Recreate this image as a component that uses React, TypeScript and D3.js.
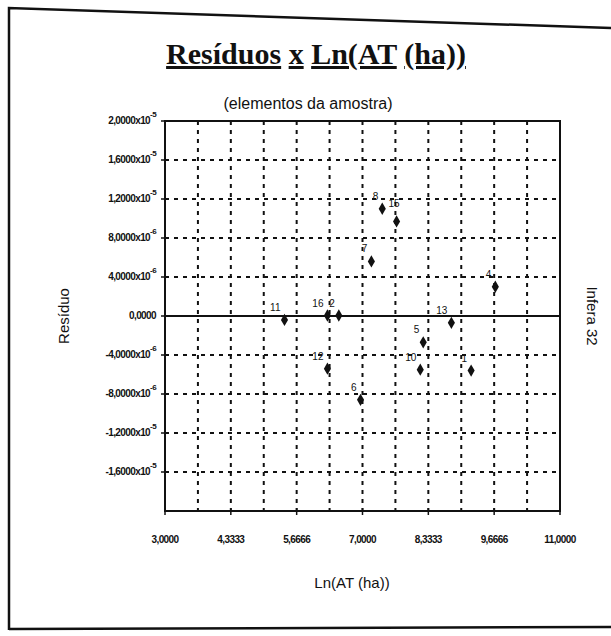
import * as d3 from "d3";

// sample elements (point id, Ln(AT), residual)
const pointIds = ["11", "16", "2", "12", "6", "7", "8", "15", "4", "13", "5", "10", "1"];
const lnAT = [5.42, 6.29, 6.52, 6.29, 6.96, 7.18, 7.4, 7.69, 9.69, 8.8, 8.23, 8.17, 9.2];
const residuals = [-0.4e-6, 0.05e-6, 0.05e-6, -5.4e-6, -8.6e-6, 5.6e-6, 1.1e-5, 9.7e-6, 3.0e-6, -0.7e-6, -2.7e-6, -5.5e-6, -5.6e-6];

const xTicks = [3, 4.3333, 5.6666, 7, 8.3333, 9.6666, 11];
const xTickLabels = ["3,0000", "4,3333", "5,6666", "7,0000", "8,3333", "9,6666", "11,0000"];
const xGrid = [3.6667, 4.3333, 5, 5.6666, 6.3333, 7, 7.6667, 8.3333, 9, 9.6666, 10.3333];
const yTicks = [2e-5, 1.6e-5, 1.2e-5, 8e-6, 4e-6, 0, -4e-6, -8e-6, -1.2e-5, -1.6e-5];
const yTickMantissa = ["2,0000", "1,6000", "1,2000", "8,0000", "4,0000", "0,0000", "-4,0000", "-8,0000", "-1,2000", "-1,6000"];
const yTickExp = ["-5", "-5", "-5", "-6", "-6", "", "-6", "-6", "-5", "-5"];
const titleWords = ["Resíduos", "x", "Ln(AT", "(ha))"];

const W = 611;
const H = 636;
const margin = { top: 121, right: 51, bottom: 125, left: 165 };

// a few point labels sit a bit off the usual spot so they don't collide
const labelNudge: Record<string, [number, number]> = { "15": [7, -5] };

export default function App() {
  const x = d3.scaleLinear().domain([3, 11]).range([margin.left, W - margin.right]);
  const y = d3.scaleLinear().domain([-2e-5, 2e-5]).range([H - margin.bottom, margin.top]);
  const diamond = d3.symbol().type(d3.symbolDiamond).size(44)();
  const sans = "'Liberation Sans', Arial, sans-serif";

  return (
    <svg
      width={W}
      height={H}
      style={{ position: "absolute", left: 0, top: 0, background: "#fff" }}
    >
      {/* scanned page frame */}
      <path d="M9,630 L9,8 L611,28" fill="none" stroke="#111" strokeWidth={2.5} />
      <line x1={9} y1={629} x2={611} y2={627} stroke="#111" strokeWidth={2.5} />

      {/* title, each word underlined on its own */}
      <text
        x={316}
        y={64}
        textAnchor="middle"
        fontFamily="'Liberation Serif', 'Times New Roman', serif"
        fontWeight="bold"
        fontSize={30}
        fill="#111"
      >
        {titleWords.map((w, i) => (
          <tspan key={w}>
            {i > 0 ? " " : ""}
            <tspan textDecoration="underline">{w}</tspan>
          </tspan>
        ))}
      </text>
      <text x={308} y={109} textAnchor="middle" fontFamily={sans} fontSize={16} fill="#111">
        (elementos da amostra)
      </text>

      {/* grid */}
      <g stroke="#111" strokeWidth={2} strokeDasharray="4 5">
        {xGrid.map((v, i) => (
          <line key={"gx" + i} x1={x(v)} x2={x(v)} y1={y(2e-5)} y2={y(-2e-5)} />
        ))}
        {yTicks.filter(v => v !== 0 && v !== 2e-5).map((v, i) => (
          <line key={"gy" + i} x1={x(3)} x2={x(11)} y1={y(v)} y2={y(v)} />
        ))}
      </g>
      <line x1={x(3)} x2={x(11)} y1={y(0)} y2={y(0)} stroke="#111" strokeWidth={1.8} />

      {/* plot frame */}
      <rect
        x={x(3)}
        y={y(2e-5)}
        width={x(11) - x(3)}
        height={y(-2e-5) - y(2e-5)}
        fill="none"
        stroke="#111"
        strokeWidth={2}
      />

      {/* y axis ticks + labels */}
      <g fontFamily={sans} fontSize={10} fontWeight="bold" fill="#111">
        {yTicks.map((v, i) => (
          <g key={"yt" + i}>
            <line x1={x(3) - 4} x2={x(3)} y1={y(v)} y2={y(v)} stroke="#111" strokeWidth={1.5} />
            <text x={x(3) - 9} y={y(v) + 3} textAnchor="end" letterSpacing={-0.6}>
              {yTickMantissa[i]}
              {yTickExp[i] ? "x10" : ""}
              {yTickExp[i] ? (
                <tspan dy={-7} fontSize={8}>
                  {yTickExp[i]}
                </tspan>
              ) : null}
            </text>
          </g>
        ))}
      </g>

      {/* x axis ticks + labels */}
      <g fontFamily={sans} fontSize={10} fontWeight="bold" fill="#111">
        {xTicks.map((v, i) => (
          <g key={"xt" + i}>
            <line x1={x(v)} x2={x(v)} y1={y(-2e-5) - 3} y2={y(-2e-5) + 4} stroke="#111" strokeWidth={1.5} />
            <text x={x(v)} y={y(-2e-5) + 32} textAnchor="middle" letterSpacing={-0.6}>
              {xTickLabels[i]}
            </text>
          </g>
        ))}
      </g>

      {/* axis titles */}
      <text x={352} y={588} textAnchor="middle" fontFamily={sans} fontSize={15} fill="#111">
        Ln(AT (ha))
      </text>
      <text
        transform={`translate(69,${y(0)}) rotate(-90)`}
        textAnchor="middle"
        fontFamily={sans}
        fontSize={15}
        fill="#111"
      >
        Resíduo
      </text>
      <text
        transform={`translate(587,${y(0)}) rotate(90)`}
        textAnchor="middle"
        fontFamily={sans}
        fontSize={15}
        fill="#111"
      >
        Infera 32
      </text>

      {/* points */}
      <g>
        {pointIds.map((id, i) => {
          const [nx, ny] = labelNudge[id] || [0, 0];
          return (
            <g key={"p" + id + i} transform={`translate(${x(lnAT[i])},${y(residuals[i])})`}>
              <path d={diamond} fill="#111" />
              <text x={-4 + nx} y={-9 + ny} textAnchor="end" fontFamily={sans} fontSize={10} fill="#111">
                {id}
              </text>
            </g>
          );
        })}
      </g>
    </svg>
  );
}
